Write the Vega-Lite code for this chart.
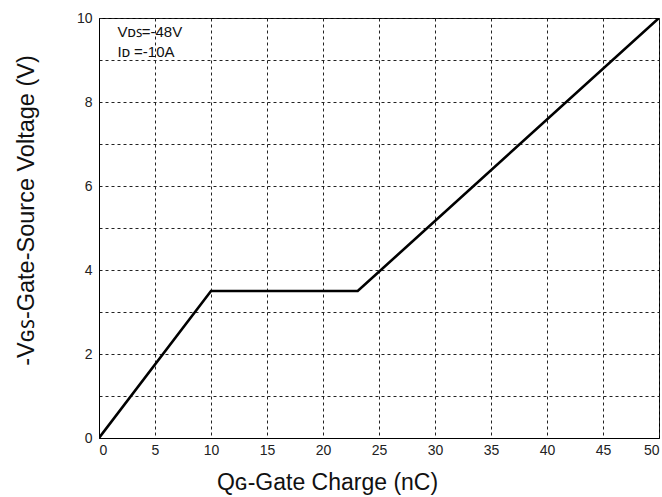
{
  "$schema": "https://vega.github.io/schema/vega-lite/v6.json",
  "width": 560,
  "height": 420,
  "autosize": {"type": "none"},
  "padding": {"left": 99, "top": 18, "right": 3, "bottom": 59},
  "background": "white",
  "config": {
    "view": {"stroke": "black", "strokeWidth": 1},
    "font": "Liberation Sans",
    "axis": {
      "labelFont": "Liberation Sans",
      "titleFont": "Liberation Sans",
      "labelColor": "#222",
      "titleColor": "#111",
      "titleFontWeight": "normal",
      "gridColor": "#222",
      "gridDash": [3, 3],
      "gridWidth": 1,
      "gridOpacity": 1,
      "domainColor": "black",
      "ticks": false
    }
  },
  "datasets": {
    "curve": [
      {"qg": 0, "vgs": 0},
      {"qg": 10, "vgs": 3.5},
      {"qg": 23.1, "vgs": 3.5},
      {"qg": 50, "vgs": 10}
    ],
    "notes": [
      {"qg": 1.65, "vgs": 9.66, "txt": "Vᴅꜱ=-48V"},
      {"qg": 1.65, "vgs": 9.2, "txt": "Iᴅ =-10A"}
    ]
  },
  "layer": [
    {
      "data": {"name": "curve"},
      "mark": {"type": "line", "color": "black", "strokeWidth": 2.6, "clip": true},
      "encoding": {
        "x": {
          "field": "qg", "type": "quantitative",
          "scale": {"domain": [0, 50], "nice": false},
          "axis": {
            "values": [0, 5, 10, 15, 20, 25, 30, 35, 40, 45, 50],
            "labelFontSize": 14,
            "labelPadding": 5,
            "title": "Qɢ-Gate Charge (nC)",
            "titleFontSize": 23,
            "titleAnchor": "start",
            "titleAlign": "center",
            "titleBaseline": "middle",
            "titleX": 228,
            "titleY": 44
          }
        },
        "y": {
          "field": "vgs", "type": "quantitative",
          "scale": {"domain": [0, 10], "nice": false},
          "axis": {
            "values": [0, 1, 2, 3, 4, 5, 6, 7, 8, 9, 10],
            "labelExpr": "datum.value % 2 == 0 ? datum.label : ''",
            "labelFontSize": 14,
            "labelPadding": 7,
            "title": "-Vɢꜱ-Gate-Source Voltage (V)",
            "titleFontSize": 23.5,
            "titleAlign": "center",
            "titleBaseline": "middle",
            "titleAngle": -90,
            "titleX": -73,
            "titleY": 192
          }
        }
      }
    },
    {
      "data": {"name": "notes"},
      "mark": {"type": "text", "align": "left", "baseline": "middle", "fontSize": 15, "color": "#111", "font": "Liberation Sans"},
      "encoding": {
        "x": {"field": "qg", "type": "quantitative"},
        "y": {"field": "vgs", "type": "quantitative"},
        "text": {"field": "txt"}
      }
    }
  ]
}
